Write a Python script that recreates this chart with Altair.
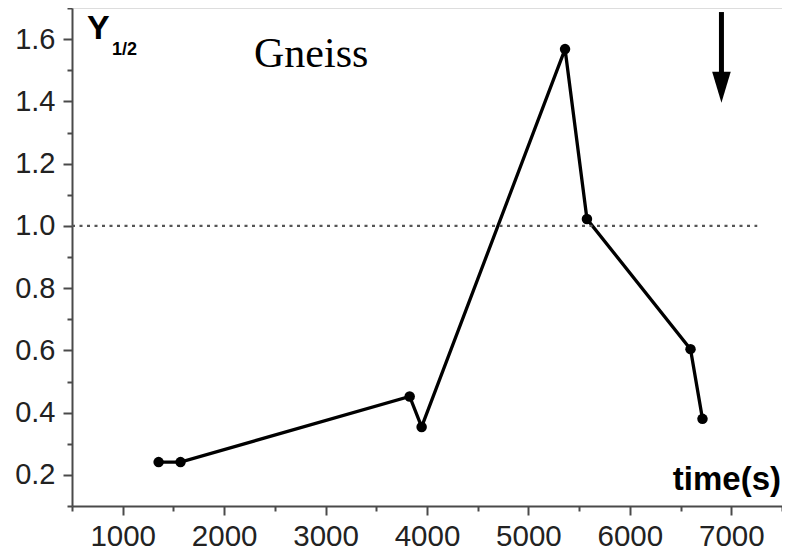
import altair as alt
import pandas as pd

# ---- data ----
time_s = [1354, 1570, 3829, 3947, 5361, 5577, 6598, 6716]
y_half = [0.241, 0.241, 0.452, 0.354, 1.568, 1.022, 0.604, 0.380]

x_major = [1000, 2000, 3000, 4000, 5000, 6000, 7000]
x_minor = [500, 1500, 2500, 3500, 4500, 5500, 6500, 7500]
y_major = [0.2, 0.4, 0.6, 0.8, 1.0, 1.2, 1.4, 1.6]
y_minor = [0.1, 0.3, 0.5, 0.7, 0.9, 1.1, 1.3, 1.5, 1.7]

x_domain = [500, 7500]
y_domain = [0.1, 1.7]

ref_level = [1.0]
ref_x_start = [500]
ref_x_end = [7256]

arrow_x = [6903]
arrow_top = [1.687]
arrow_shaft_end = [1.47]
arrow_head_y = [1.445]

df = pd.DataFrame({"time": time_s, "y": y_half})

W, H = 710, 498
AX_COLOR = "#4a4a4a"
LABEL_FONT = "Liberation Sans"

xs = alt.Scale(domain=x_domain, nice=False, zero=False)
ys = alt.Scale(domain=y_domain, nice=False, zero=False)

common_axis = dict(
    domainColor=AX_COLOR, domainWidth=2, tickColor=AX_COLOR, tickWidth=2,
    grid=False, labelFont=LABEL_FONT, labelColor="#222222",
    labelOverlap=False, labelFlush=False, title=None,
)

line = alt.Chart(df).mark_line(color="black", strokeWidth=3.3).encode(
    x=alt.X("time:Q", scale=xs,
            axis=alt.Axis(values=x_major, format="d", tickSize=9, labelPadding=7,
                          labelFontSize=29.5, orient="bottom", **common_axis)),
    y=alt.Y("y:Q", scale=ys,
            axis=alt.Axis(values=y_major, format=".1f", tickSize=9, labelPadding=8,
                          labelFontSize=29, orient="left", **common_axis)),
)

minor = alt.Chart(df).mark_point(opacity=0).encode(
    x=alt.X("time:Q", scale=xs,
            axis=alt.Axis(values=x_minor, tickSize=5, labels=False, domain=False,
                          orient="bottom", tickColor=AX_COLOR, tickWidth=2,
                          grid=False, title=None)),
    y=alt.Y("y:Q", scale=ys,
            axis=alt.Axis(values=y_minor, tickSize=5, labels=False, domain=False,
                          orient="left", tickColor=AX_COLOR, tickWidth=2,
                          grid=False, title=None)),
)

points = alt.Chart(df).mark_circle(color="black", size=110, opacity=1).encode(
    x=alt.X("time:Q", scale=xs, axis=None),
    y=alt.Y("y:Q", scale=ys, axis=None),
)

ref_df = pd.DataFrame({"x1": ref_x_start, "x2": ref_x_end, "y": ref_level})
ref = alt.Chart(ref_df).mark_rule(color="#555555", strokeWidth=2.2,
                                  strokeDash=[3, 4.5]).encode(
    x=alt.X("x1:Q", scale=xs, axis=None),
    x2="x2:Q",
    y=alt.Y("y:Q", scale=ys, axis=None),
)

arrow_df = pd.DataFrame({"x": arrow_x, "y1": arrow_top, "y2": arrow_shaft_end,
                         "yh": arrow_head_y})
shaft = alt.Chart(arrow_df).mark_rule(color="black", strokeWidth=5).encode(
    x=alt.X("x:Q", scale=xs, axis=None),
    y=alt.Y("y1:Q", scale=ys, axis=None),
    y2="y2:Q",
)
head = alt.Chart(arrow_df).mark_point(
    shape="M-0.6,-1L0.6,-1L0,1Z", filled=True, color="black", opacity=1,
    size=961, strokeWidth=0,
).encode(
    x=alt.X("x:Q", scale=xs, axis=None),
    y=alt.Y("yh:Q", scale=ys, axis=None),
)

def label(text, x, y, **kw):
    return alt.Chart(pd.DataFrame({"t": [text]})).mark_text(
        align=kw.pop("align", "left"), baseline="alphabetic", color="black", **kw
    ).encode(x=alt.value(x), y=alt.value(y), text="t:N")

t_y = label("Y", 15, 31, font=LABEL_FONT, fontSize=34, fontWeight="bold")
t_sub = label("1/2", 40, 47, font=LABEL_FONT, fontSize=18, fontWeight="bold")
t_gneiss = label("Gneiss", 182, 59, font="Liberation Serif", fontSize=42)
t_time = label("time(s)", 709, 482, font=LABEL_FONT, fontSize=33,
               fontWeight="bold", align="right")

chart = alt.layer(
    line, minor, ref, points, shaft, head, t_y, t_sub, t_gneiss, t_time
).resolve_axis(x="independent", y="independent").properties(
    width=W, height=H,
    autosize=alt.AutoSizeParams(type="none"),
    padding={"left": 64, "top": 0, "right": 0, "bottom": 48},
).configure_view(stroke=None).configure(background="white")

chart.save("out.html", embed_options={"renderer": "svg", "actions": False})
